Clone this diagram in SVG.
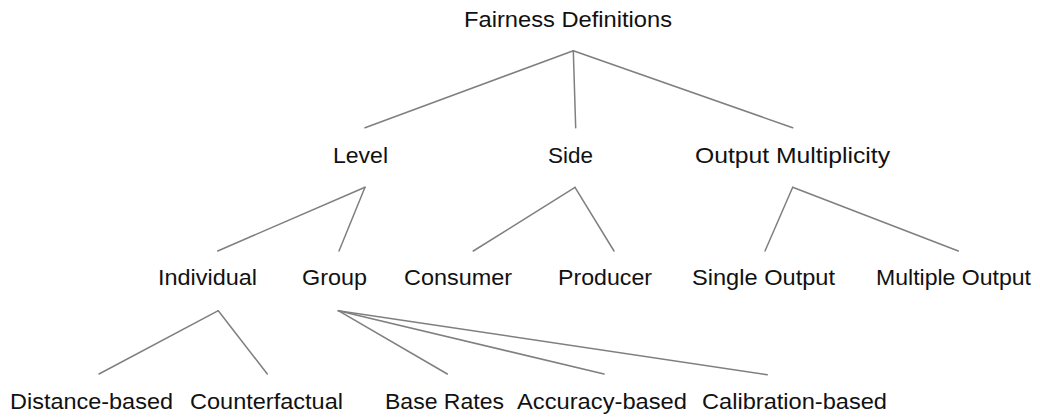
<svg xmlns="http://www.w3.org/2000/svg" width="1040" height="417" viewBox="0 0 1040 417">
<style>
  .lbl { font-family: "Liberation Sans", Arial, Helvetica, sans-serif; font-size: 22px; fill: #111; }
  .edge { stroke: #7f7f7f; stroke-width: 1.5; fill: none; stroke-linecap: round; }
</style>
<rect width="1040" height="417" fill="#ffffff"/>
<g id="connectors">
  <line class="edge" x1="573.3" y1="50.7" x2="365" y2="127.7"/>
  <line class="edge" x1="573.3" y1="50.7" x2="575.7" y2="127.7"/>
  <line class="edge" x1="573.3" y1="50.7" x2="792.7" y2="127.7"/>
  <line class="edge" x1="365" y1="187.3" x2="217.7" y2="251"/>
  <line class="edge" x1="365" y1="187.3" x2="339" y2="251"/>
  <line class="edge" x1="575" y1="187.3" x2="473.3" y2="251"/>
  <line class="edge" x1="575" y1="187.3" x2="614" y2="251"/>
  <line class="edge" x1="792.7" y1="187.3" x2="765" y2="251"/>
  <line class="edge" x1="792.7" y1="187.3" x2="958.3" y2="251"/>
  <line class="edge" x1="218.3" y1="310.7" x2="99" y2="374"/>
  <line class="edge" x1="218.3" y1="310.7" x2="267.3" y2="374"/>
  <line class="edge" x1="338.3" y1="310.7" x2="447.3" y2="374"/>
  <line class="edge" x1="338.3" y1="310.7" x2="604" y2="374"/>
  <line class="edge" x1="338.3" y1="310.7" x2="767.3" y2="374.7"/>
</g>
<g id="fairness-definitions"><text class="lbl" x="464" y="26.7" textLength="208" lengthAdjust="spacingAndGlyphs">Fairness Definitions</text></g>
<g id="level"><text class="lbl" x="333" y="163.3" textLength="55" lengthAdjust="spacingAndGlyphs">Level</text></g>
<g id="side"><text class="lbl" x="548" y="163.3" textLength="45" lengthAdjust="spacingAndGlyphs">Side</text></g>
<g id="output-multiplicity"><text class="lbl" x="695" y="163.3" textLength="195" lengthAdjust="spacingAndGlyphs">Output Multiplicity</text></g>
<g id="individual"><text class="lbl" x="158" y="285" textLength="99" lengthAdjust="spacingAndGlyphs">Individual</text></g>
<g id="group"><text class="lbl" x="302" y="285" textLength="65" lengthAdjust="spacingAndGlyphs">Group</text></g>
<g id="consumer"><text class="lbl" x="404" y="285" textLength="108" lengthAdjust="spacingAndGlyphs">Consumer</text></g>
<g id="producer"><text class="lbl" x="558" y="285" textLength="94" lengthAdjust="spacingAndGlyphs">Producer</text></g>
<g id="single-output"><text class="lbl" x="692" y="285" textLength="143" lengthAdjust="spacingAndGlyphs">Single Output</text></g>
<g id="multiple-output"><text class="lbl" x="876" y="285" textLength="155" lengthAdjust="spacingAndGlyphs">Multiple Output</text></g>
<g id="distance-based"><text class="lbl" x="10" y="408.5" textLength="163" lengthAdjust="spacingAndGlyphs">Distance-based</text></g>
<g id="counterfactual"><text class="lbl" x="190" y="408.5" textLength="153" lengthAdjust="spacingAndGlyphs">Counterfactual</text></g>
<g id="base-rates"><text class="lbl" x="385" y="408.5" textLength="119" lengthAdjust="spacingAndGlyphs">Base Rates</text></g>
<g id="accuracy-based"><text class="lbl" x="517" y="408.5" textLength="170" lengthAdjust="spacingAndGlyphs">Accuracy-based</text></g>
<g id="calibration-based"><text class="lbl" x="702" y="408.5" textLength="185" lengthAdjust="spacingAndGlyphs">Calibration-based</text></g>
</svg>
